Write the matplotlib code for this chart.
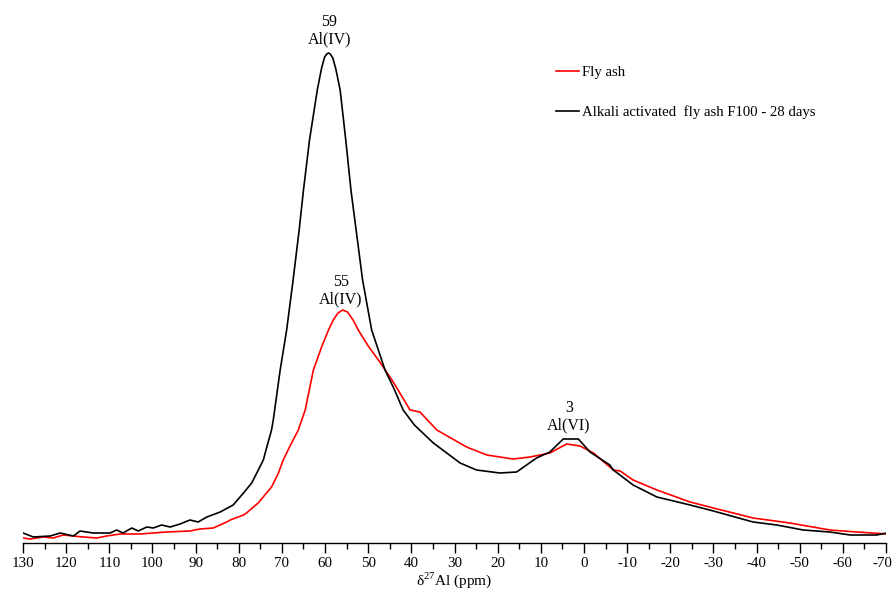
import matplotlib
matplotlib.use("Agg")
import matplotlib.pyplot as plt
from matplotlib.ticker import MultipleLocator, FuncFormatter
from matplotlib.transforms import ScaledTranslation

plt.rcParams['font.family'] = ['Liberation Serif', 'DejaVu Serif']
plt.rcParams['mathtext.fontset'] = 'custom'
plt.rcParams['mathtext.rm'] = 'Liberation Serif'
plt.rcParams['axes.unicode_minus'] = False

# 27Al MAS-NMR spectra (chemical shift in ppm, intensity in arbitrary units)
fa100_ppm = [130.0, 127.6, 123.7, 121.4, 118.3, 116.8, 113.7, 109.8, 108.3, 106.8,
             104.8, 103.3, 101.3, 99.8, 97.9, 95.9, 93.6, 91.3, 89.4, 87.4,
             84.3, 81.3, 78.9, 77.0, 74.3, 73.5, 72.4, 72.0, 70.4, 68.9,
             67.4, 66.0, 65.0, 63.6, 61.8, 60.8, 60.1, 59.6, 59.2, 58.8,
             58.2, 57.5, 56.5, 55.2,
             54.0, 52.8, 51.3, 49.2, 46.1, 44.2, 41.9, 39.3, 34.9, 28.7,
             24.9, 19.5, 15.6, 11.0, 7.9, 4.8, 1.3, -1.4, -6.0, -6.8,
             -11.4, -16.9, -24.6, -30.0, -39.2, -44.7, -50.8, -57.0, -61.7, -67.8,
             -70.2]
fa100_int = [10, 6, 7, 10, 7, 12, 10, 10, 13, 10,
             15, 12, 16, 15, 18, 16, 19, 23, 21, 26,
             31, 38, 50, 60, 83, 96, 113, 123, 173, 213,
             263, 313, 353, 403, 453, 475, 486, 489, 490, 489,
             485, 474, 453, 403,
             353, 313, 263, 213, 173, 156, 133, 118, 100, 80,
             73, 70, 71, 85, 91, 104, 104, 91, 78, 73,
             58, 46, 38, 32, 21, 18, 13, 11, 8, 8,
             10]

fly_ppm = [130.0, 128.4, 125.3, 123.0, 120.7, 118.3, 116.0, 112.9, 110.6, 107.5,
           102.9, 99.8, 96.7, 91.3, 89.0, 85.9, 82.8, 82.0, 78.9, 78.2,
           75.5, 72.4, 70.8, 69.7, 68.0, 66.2, 64.6, 62.7, 60.8, 59.2, 58.1,
           57.0, 55.9, 54.8, 53.5, 52.3, 50.0, 47.3, 44.2, 40.3, 38.0, 34.1, 27.2, 22.5,
           16.4, 12.5, 7.9, 4.0, 0.9, -2.2, -6.8, -8.4, -11.4, -16.9,
           -24.6, -30.0, -39.2, -47.7, -57.0, -63.2, -70.2]
fly_int = [5, 4, 6, 5, 8, 7, 6, 5, 7, 9,
           9, 10, 11, 12, 14, 15, 21, 23, 28, 30,
           40, 56, 70, 83, 98, 113, 133, 173, 196, 213, 223,
           230, 233, 231, 223, 213, 197, 181, 161, 133, 131, 113, 96, 88,
           84, 86, 90, 99, 97, 90, 73, 72, 63, 53,
           41, 35, 25, 20, 13, 11, 9]

xticks = list(range(130, -71, -10))
peak_labels = [("59\nAl(IV)", 59.0, 496), ("55\nAl(IV)", 56.3, 236), ("3\nAl(VI)", 3.5, 110)]

fig = plt.figure(figsize=(8.94, 5.92), dpi=100)
ax = fig.add_axes([23 / 894, 49 / 592, 863 / 894, 543 / 592])

ax.plot(fly_ppm, fly_int, color='#ff0000', lw=1.2, label='Fly ash')
ax.plot(fa100_ppm, fa100_int, color='black', lw=1.2,
        label='Alkali activated  fly ash F100 - 28 days')

ax.set_xlim(130, -70)
ax.set_ylim(0, 543)

for side in ('left', 'right', 'top'):
    ax.spines[side].set_visible(False)
ax.spines['bottom'].set_linewidth(1.0)
ax.set_yticks([])
ax.set_xticks(xticks)
ax.xaxis.set_minor_locator(MultipleLocator(5))
ax.xaxis.set_major_formatter(FuncFormatter(lambda v, p: f"{int(round(v))}"))
ax.tick_params(axis='x', which='major', direction='out', length=7, width=1.0,
               labelsize=10.8, pad=3)
ax.tick_params(axis='x', which='minor', direction='out', length=4, width=1.0)
ax.set_xlabel(r'δ$^{\mathregular{27}}$Al (ppm)', fontsize=11, labelpad=0)

# keep the right-most tick label inside the canvas
last = ax.get_xticklabels()[-1]
last.set_transform(last.get_transform() + ScaledTranslation(-4 / 100, 0, fig.dpi_scale_trans))

for text, xv, yv in peak_labels:
    ax.text(xv, yv, text, ha='center', va='bottom', fontsize=11.5, linespacing=1.1)

ax.legend(loc='upper left', bbox_to_anchor=(556 / 894, 1 - 66 / 592),
          bbox_transform=fig.transFigure, frameon=False, fontsize=10.6,
          handlelength=1.55, handletextpad=0.25, labelspacing=1.75, borderpad=0,
          borderaxespad=0)

fig.savefig('out.png', dpi=100)
